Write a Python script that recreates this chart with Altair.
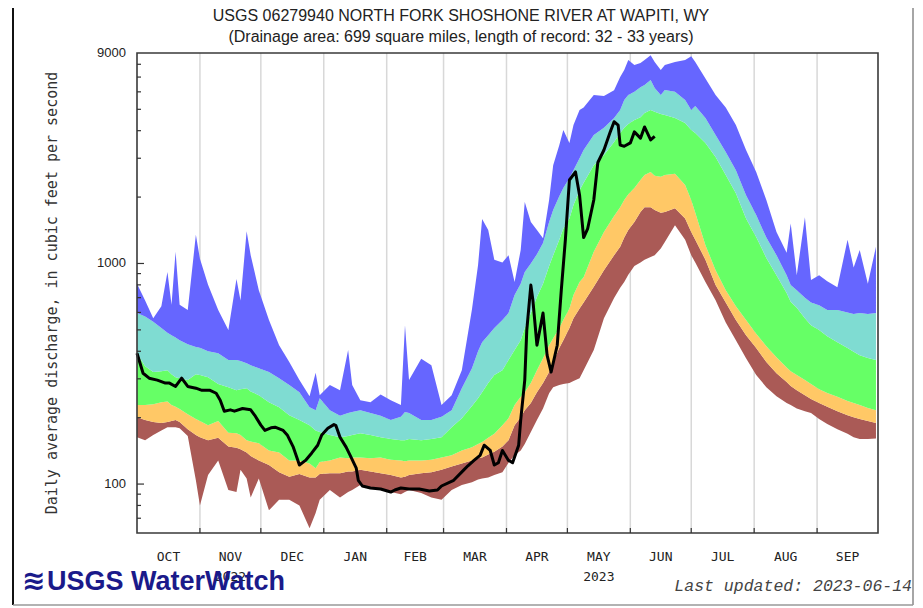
import altair as alt
import pandas as pd

# ---------------- data ----------------
# day of water year (0 = 2022-10-01)
DAYS = [0, 4, 8, 12, 15, 17, 19, 21, 25, 29, 31, 35, 40, 45, 49, 51, 54, 56, 60, 65,
        70, 75, 80, 85, 88, 90, 95, 100, 104, 106, 110, 115, 120, 125, 130, 132, 134, 140, 145, 150,
        155, 160, 165, 168, 170, 173, 176, 180, 183, 186, 189, 191, 194, 197, 200, 203, 205, 208, 210, 213,
        215, 218, 220, 225, 230, 235, 238, 240, 242, 245, 248, 250, 253, 255, 258, 260, 265, 270, 273, 275,
        280, 285, 290, 295, 300, 305, 310, 315, 320, 322, 325, 329, 332, 336, 340, 345, 350, 353, 356, 360,
        364]

Q_MAX = [810, 680, 565, 640, 915, 650, 1130, 650, 615, 1350,
         1050, 800, 615, 500, 850, 680, 1400, 1090, 757, 554,
         426, 358, 296, 250, 320, 253, 281, 266, 405, 281,
         240, 235, 255, 240, 228, 525, 296, 370, 346, 228,
         253, 328, 620, 984, 1590, 1420, 1040, 1010, 1090, 825,
         1150, 1900, 1540, 1420, 1300, 1940, 2790, 3440, 4030, 3520,
         4240, 4970, 5100, 5800, 5750, 6100, 7000, 7540, 8360, 7940,
         8100, 8360, 8800, 8200, 7540, 7940, 8200, 8360, 8700, 8200,
         6900, 5810, 5100, 4240, 3270, 2600, 1940, 1390, 1120, 1520,
         885, 1620, 841, 885, 830, 780, 1280, 960, 1150, 810,
         1190]

Q_P90 = [596, 575, 545, 510, 485, 473, 462, 449, 430, 418,
         415, 400, 392, 365, 365, 361, 353, 346, 335, 322,
         302, 281, 261, 223, 216, 245, 216, 204, 210, 212,
         216, 210, 204, 195, 202, 212, 210, 195, 195, 202,
         216, 272, 335, 400, 440, 473, 510, 554, 596, 719,
         810, 915, 1000, 1100, 1240, 1540, 1750, 2020, 2200, 2440,
         2650, 3000, 3270, 3820, 4120, 4570, 4970, 5510, 5810, 6000,
         6300, 6440, 6790, 6250, 5810, 6110, 6000, 5510, 4970, 5170,
         4570, 3820, 3200, 2650, 2040, 1660, 1310, 1090, 885, 798,
         757, 700, 665, 647, 615, 615, 600, 590, 596, 590,
         596]

Q_P75 = [392, 342, 322, 325, 328, 315, 305, 302, 296, 315,
         312, 305, 284, 275, 266, 269, 272, 263, 253, 235,
         223, 205, 195, 185, 175, 172, 167, 163, 165, 167,
         170, 167, 163, 160, 158, 158, 160, 158, 160, 163,
         181, 199, 226, 245, 261, 287, 312, 328, 365, 405,
         449, 510, 596, 705, 810, 975, 1090, 1280, 1440, 1600,
         1840, 2150, 2320, 2790, 3100, 3550, 3900, 4120, 4290, 4470,
         4600, 4810, 4970, 4870, 4760, 4710, 4570, 4330, 4030, 3900,
         3520, 3040, 2520, 2080, 1600, 1320, 1060, 885, 735, 670,
         630, 565, 525, 499, 468, 440, 414, 398, 384, 373,
         365]

Q_P25 = [228, 228, 230, 235, 237, 228, 224, 219, 207, 197,
         193, 185, 193, 171, 170, 167, 158, 156, 153, 142,
         139, 128, 128, 124, 118, 126, 128, 132, 131, 132,
         132, 131, 132, 129, 128, 127, 128, 128, 129, 132,
         135, 142, 147, 152, 155, 162, 169, 185, 199, 228,
         249, 261, 287, 328, 372, 426, 458, 510, 554, 625,
         719, 825, 867, 1130, 1390, 1640, 1800, 1940, 2060, 2200,
         2390, 2520, 2600, 2500, 2470, 2520, 2550, 2270, 1940, 1700,
         1210, 933, 757, 640, 554, 480, 422, 376, 338, 325,
         312, 296, 284, 269, 259, 249, 238, 233, 228, 221,
         216]

Q_P10 = [201, 195, 191, 189, 191, 193, 195, 191, 177, 167,
         163, 158, 162, 148, 146, 144, 139, 134, 128, 122,
         113, 108, 111, 107, 107, 111, 112, 112, 114, 114,
         116, 114, 112, 110, 107, 108, 110, 112, 113, 116,
         120, 124, 128, 131, 132, 136, 140, 148, 158, 185,
         201, 216, 233, 261, 287, 322, 358, 414, 449, 510,
         565, 625, 665, 785, 933, 1090, 1190, 1310, 1420, 1540,
         1710, 1800, 1800, 1750, 1700, 1710, 1780, 1600, 1390, 1280,
         1040, 798, 665, 554, 473, 414, 358, 318, 290, 278,
         266, 253, 243, 233, 224, 214, 205, 201, 197, 193,
         189]

Q_MIN = [163, 158, 167, 175, 181, 181, 181, 179, 165, 104,
         80, 110, 128, 94, 92, 116, 106, 87, 106, 76,
         85, 85, 80, 63, 74, 85, 94, 87, 92, 94,
         99, 96, 94, 92, 90, 92, 94, 91, 87, 85,
         94, 99, 102, 105, 106, 107, 110, 113, 125, 135,
         142, 152, 172, 195, 220, 258, 275, 281, 284, 287,
         293, 302, 328, 405, 565, 697, 777, 825, 890, 975,
         1010, 1040, 1070, 1090, 1170, 1250, 1490, 1280, 1090, 1010,
         825, 682, 540, 449, 372, 312, 275, 250, 233, 228,
         220, 214, 210, 197, 187, 177, 169, 163, 160, 160,
         161]

# water year 2023 daily discharge (to 2023-06-13)
OBS_DAYS = [0, 3, 6, 10, 14, 16, 19, 22, 25, 29, 32, 36, 39, 41, 43, 46, 48, 52, 56, 58,
            61, 63, 66, 68, 72, 74, 77, 79, 80, 83, 86, 89, 91, 94, 97, 98, 100, 103, 105, 108,
            109, 111, 115, 120, 125, 127, 130, 134, 139, 144, 148, 150, 156, 161, 163, 166, 169, 171, 174, 176,
            178, 180, 183, 185, 188, 189, 191, 192, 194, 195, 197, 200, 202, 204, 207, 209, 211, 213, 216, 218,
            220, 222, 225, 227, 230, 233, 235, 237, 238, 240, 243, 245, 248, 250, 253, 255]
OBS_Q = [392, 318, 302, 296, 287, 287, 277, 302, 277, 272, 266, 266, 258, 240, 214, 217, 214, 220, 217, 205,
         185, 175, 180, 181, 175, 167, 147, 130, 122, 128, 138, 150, 167, 179, 186, 184, 163, 147, 135, 118,
         104, 98, 96, 95, 92, 94, 96, 95, 95, 93, 94, 98, 104, 116, 121, 128, 135, 150, 142, 122,
         125, 142, 128, 125, 150, 195, 296, 499, 798, 682, 426, 596, 384, 322, 426, 757, 1280, 2390, 2600, 2040,
         1310, 1440, 1940, 2870, 3270, 3920, 4390, 4240, 3440, 3400, 3520, 3950, 3700, 4160, 3630, 3770]

MONTHS = ["OCT", "NOV", "DEC", "JAN", "FEB", "MAR", "APR", "MAY", "JUN", "JUL", "AUG", "SEP"]
MONTH_START = [0, 31, 61, 92, 123, 151, 182, 212, 243, 273, 304, 335, 365]
YEARS = ["2022", "2023"]
YEAR_MONTH = [1, 7]          # index of month the year label sits under
Y_LABELS = [100, 1000, 9000]
Y_MAJOR_TICKS = [100, 1000]
Y_MINOR_TICKS = [70, 80, 90, 200, 300, 400, 500, 600, 700, 800, 900,
                 2000, 3000, 4000, 5000, 6000, 7000, 8000]

TITLE = "USGS 06279940 NORTH FORK SHOSHONE RIVER AT WAPITI, WY"
SUBTITLE = "(Drainage area: 699 square miles, length of record: 32 - 33 years)"
Y_TITLE = "Daily average discharge, in cubic feet per second"
UPDATED = "Last updated: 2023-06-14"
LOGO = "USGS WaterWatch"

# ---------------- layout / style ----------------
W, H = 741, 480
SANS = "'Liberation Sans', Arial, sans-serif"
MONO = "'DejaVu Sans Mono', monospace"
COURIER = "'Liberation Mono', 'Courier New', monospace"

C_BLUE = "#6666ff"
C_CYAN = "#7fdcd2"
C_GREEN = "#66ff66"
C_ORANGE = "#ffc866"
C_BROWN = "#aa5a56"
C_LOGO = "#1a1a8a"

bands = pd.DataFrame({"day": DAYS, "qmax": Q_MAX, "p90": Q_P90, "p75": Q_P75,
                      "p25": Q_P25, "p10": Q_P10, "qmin": Q_MIN})
obs = pd.DataFrame({"day": OBS_DAYS, "q": OBS_Q})

xs = alt.Scale(domain=[0, 365], nice=False, zero=False)
ys = alt.Scale(type="log", domain=[60, 9000], nice=False)
X = alt.X("day:Q", scale=xs, axis=None)

grid = alt.Chart(pd.DataFrame({"day": MONTH_START[1:-1]})).mark_rule(
    color="#d8d8d8", strokeWidth=1.5).encode(x=X, y=alt.value(0), y2=alt.value(H))


def band(lo, hi, color):
    return alt.Chart(bands).mark_area(color=color, opacity=1).encode(
        x=X, y=alt.Y(f"{hi}:Q", scale=ys, axis=None), y2=alt.Y2(f"{lo}:Q"))


layers = [grid,
          band("qmin", "p10", C_BROWN),
          band("p10", "p25", C_ORANGE),
          band("p25", "p75", C_GREEN),
          band("p75", "p90", C_CYAN),
          band("p90", "qmax", C_BLUE)]

line = alt.Chart(obs).mark_line(color="black", strokeWidth=3, strokeJoin="round").encode(
    x=X, y=alt.Y("q:Q", scale=ys, axis=None))
layers.append(line)

frame = alt.Chart(pd.DataFrame({"k": [0]})).mark_rect(
    fillOpacity=0, stroke="#3a3a3a", strokeWidth=1.6).encode(
    x=alt.value(0), x2=alt.value(W), y=alt.value(0), y2=alt.value(H))
layers.append(frame)

# outer picture border (left, right, bottom)
one = pd.DataFrame({"k": [0]})
layers.append(alt.Chart(one).mark_rule(color="#111", strokeWidth=2).encode(
    x=alt.value(-124), y=alt.value(-45), y2=alt.value(552)))
layers.append(alt.Chart(one).mark_rule(color="#888", strokeWidth=1.5).encode(
    x=alt.value(776), y=alt.value(-45), y2=alt.value(552)))
layers.append(alt.Chart(one).mark_rule(color="#999", strokeWidth=1.5).encode(
    x=alt.value(-124), x2=alt.value(776), y=alt.value(552)))

ymaj = alt.Chart(pd.DataFrame({"v": Y_MAJOR_TICKS})).mark_rule(color="#333", strokeWidth=1.2).encode(
    y=alt.Y("v:Q", scale=ys, axis=None), x=alt.value(0), x2=alt.value(7))
ymin = alt.Chart(pd.DataFrame({"v": Y_MINOR_TICKS})).mark_rule(color="#333", strokeWidth=1.2).encode(
    y=alt.Y("v:Q", scale=ys, axis=None), x=alt.value(0), x2=alt.value(4))
xt = alt.Chart(pd.DataFrame({"day": MONTH_START[1:-1]})).mark_rule(color="#333", strokeWidth=1.2).encode(
    x=X, y=alt.value(H), y2=alt.value(H - 5))
layers += [ymaj, ymin, xt]

ylab = alt.Chart(pd.DataFrame({"v": Y_LABELS, "t": [str(v) for v in Y_LABELS]})).mark_text(
    align="right", baseline="middle", font=SANS, fontSize=13, color="#222").encode(
    y=alt.Y("v:Q", scale=ys, axis=None), x=alt.value(-11), text="t:N")
layers.append(ylab)

mid = [(MONTH_START[i] + MONTH_START[i + 1]) / 2 for i in range(12)]
mlab = alt.Chart(pd.DataFrame({"day": mid, "t": MONTHS})).mark_text(
    align="center", baseline="middle", font=MONO, fontSize=13, color="#222").encode(
    x=X, y=alt.value(504), text="t:N")
layers.append(mlab)

ylab2 = alt.Chart(pd.DataFrame({"day": [mid[i] for i in YEAR_MONTH], "t": YEARS})).mark_text(
    align="center", baseline="middle", font=MONO, fontSize=13, color="#222").encode(
    x=X, y=alt.value(524), text="t:N")
layers.append(ylab2)


def txt(s, x, y, **kw):
    return alt.Chart(pd.DataFrame({"t": [s]})).mark_text(**kw).encode(
        x=alt.value(x), y=alt.value(y), text="t:N")


layers.append(txt(TITLE, 324, -37, align="center", baseline="middle", font=SANS, fontSize=16, color="#222"))
layers.append(txt(SUBTITLE, 324, -16, align="center", baseline="middle", font=SANS, fontSize=16, color="#222"))
layers.append(txt(Y_TITLE, -85, H / 2, align="center", baseline="middle", angle=270,
                  font=MONO, fontSize=15, color="#333"))
layers.append(txt(UPDATED, 775, 538, align="right", baseline="alphabetic", font=COURIER,
                  fontSize=16.5, fontStyle="italic", color="#444"))
layers.append(txt("\u224b", -115, 537, align="left", baseline="alphabetic", font="'DejaVu Sans'",
                  fontSize=28, fontWeight="bold", color=C_LOGO))
layers.append(txt(LOGO, -90, 537, align="left", baseline="alphabetic", font=SANS,
                  fontSize=27, fontWeight="bold", color=C_LOGO))

chart = alt.layer(*layers).properties(
    width=W, height=H,
    padding={"left": 129, "top": 45, "right": 37, "bottom": 75},
    autosize=alt.AutoSizeParams(type="none"),
    background="white",
).configure_view(strokeWidth=0)

chart.save("out.html", embed_options={"renderer": "svg", "actions": False})
